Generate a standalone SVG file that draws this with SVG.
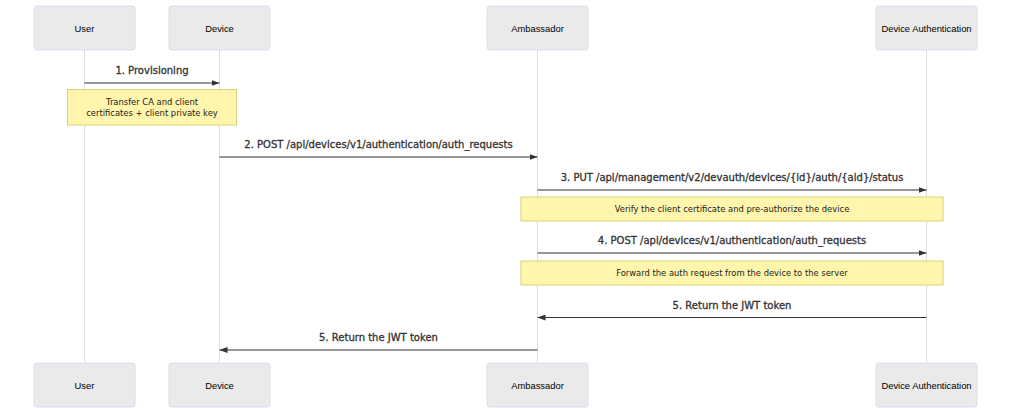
<svg xmlns="http://www.w3.org/2000/svg" width="1011" height="408" viewBox="0 0 1011 408">
<style>
.actor rect{fill:#eaeaea;stroke:#dcdcf0;stroke-width:1}
.actor text{font-family:"Liberation Sans",Arial,sans-serif;font-size:9.4px;fill:#000;text-anchor:middle}
.life{stroke:#dedede;stroke-width:1}
.msg{stroke:#333;stroke-width:1.2;fill:none}
.mlabel{font-family:"DejaVu Sans",Verdana,sans-serif;font-size:10px;fill:#333;stroke:#333;stroke-width:0.3;text-anchor:middle}
.note rect{fill:#fff5ad;stroke:#d9d27a;stroke-width:1}
.note text{font-family:"DejaVu Sans",Verdana,sans-serif;font-size:8.4px;fill:#222;text-anchor:middle}
</style>
<defs>
<marker id="arrow" viewBox="0 0 8 6" refX="8" refY="3" markerWidth="8" markerHeight="6" markerUnits="userSpaceOnUse" orient="auto">
<path d="M0,0 L8,3 L0,6 z" fill="#333"/>
</marker>
</defs>
<rect width="1011" height="408" fill="#ffffff"/>
<g id="lifelines">
<line class="life" x1="84.5" y1="50" x2="84.5" y2="363"/>
<line class="life" x1="219.5" y1="50" x2="219.5" y2="363"/>
<line class="life" x1="537.5" y1="50" x2="537.5" y2="363"/>
<line class="life" x1="926.5" y1="50" x2="926.5" y2="363"/>
</g>
<g id="actor-user" class="actor">
<rect x="34" y="6" width="101" height="44" rx="3"/><text x="84.5" y="31.5">User</text>
<rect x="34" y="363" width="101" height="44" rx="3"/><text x="84.5" y="388.5">User</text>
</g>
<g id="actor-device" class="actor">
<rect x="169" y="6" width="101" height="44" rx="3"/><text x="219.5" y="31.5">Device</text>
<rect x="169" y="363" width="101" height="44" rx="3"/><text x="219.5" y="388.5">Device</text>
</g>
<g id="actor-ambassador" class="actor">
<rect x="487" y="6" width="101" height="44" rx="3"/><text x="537.5" y="31.5">Ambassador</text>
<rect x="487" y="363" width="101" height="44" rx="3"/><text x="537.5" y="388.5">Ambassador</text>
</g>
<g id="actor-devauth" class="actor">
<rect x="876" y="6" width="101" height="44" rx="3"/><text x="926.5" y="31.5">Device Authentication</text>
<rect x="876" y="363" width="101" height="44" rx="3"/><text x="926.5" y="388.5">Device Authentication</text>
</g>
<g id="connectors">
<line class="msg" x1="84.5" y1="83" x2="219.5" y2="83" marker-end="url(#arrow)"/>
<text class="mlabel" x="152" y="74">1. Provisioning</text>
<line class="msg" x1="219.5" y1="157" x2="537.5" y2="157" marker-end="url(#arrow)"/>
<text class="mlabel" x="378.5" y="148">2. POST /api/devices/v1/authentication/auth_requests</text>
<line class="msg" x1="537.5" y1="190" x2="926.5" y2="190" marker-end="url(#arrow)"/>
<text class="mlabel" x="732" y="181">3. PUT /api/management/v2/devauth/devices/{id}/auth/{aid}/status</text>
<line class="msg" x1="537.5" y1="253" x2="926.5" y2="253" marker-end="url(#arrow)"/>
<text class="mlabel" x="732" y="244">4. POST /api/devices/v1/authentication/auth_requests</text>
<line class="msg" x1="926.5" y1="317.5" x2="537.5" y2="317.5" marker-end="url(#arrow)"/>
<text class="mlabel" x="732" y="308.5">5. Return the JWT token</text>
<line class="msg" x1="537.5" y1="350" x2="219.5" y2="350" marker-end="url(#arrow)"/>
<text class="mlabel" x="378.5" y="341">5. Return the JWT token</text>
</g>
<g id="note-1" class="note">
<rect x="67.5" y="89.5" width="169" height="35.5"/>
<text x="152" y="105">Transfer CA and client</text>
<text x="152" y="116">certificates + client private key</text>
</g>
<g id="note-2" class="note">
<rect x="521" y="197" width="422" height="24"/>
<text x="732" y="212">Verify the client certificate and pre-authorize the device</text>
</g>
<g id="note-3" class="note">
<rect x="521" y="261" width="422" height="24"/>
<text x="732" y="276">Forward the auth request from the device to the server</text>
</g>
</svg>
